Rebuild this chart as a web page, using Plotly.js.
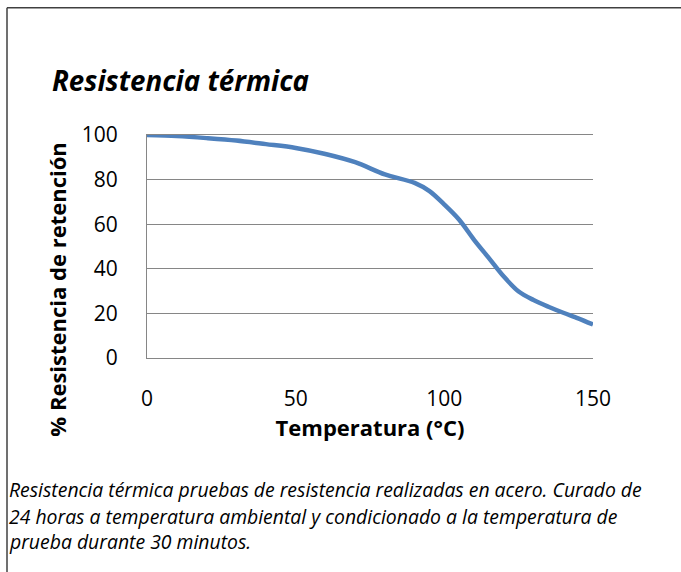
<!DOCTYPE html>
<html>
<head>
<meta charset="utf-8">
<script src="https://cdn.plot.ly/plotly-3.0.1.min.js"></script>
<style>html,body{margin:0;padding:0;background:#fff;}#chart{width:681px;height:572px;}</style>
</head>
<body>
<div id="chart"></div>
<script>
// Data
const temperatures = [0, 10, 20, 30, 40, 50, 60, 70, 80, 90, 95, 100, 105, 110, 115, 120, 125, 130, 135, 140, 145, 150];
const retention = [100, 99.5, 98.6, 97.5, 95.9, 94.2, 91.5, 87.8, 82.3, 78.5, 74.8, 68.8, 62, 53, 44.8, 36.5, 29.8, 26, 23, 20.3, 17.8, 15];
const xTicks = [0, 50, 100, 150];
const yTicks = [0, 20, 40, 60, 80, 100];
const chartTitle = 'Resistencia térmica';
const xTitle = 'Temperatura (°C)';
const yTitle = '% Resistencia de retención';
const captionLines = [
  'Resistencia térmica pruebas de resistencia realizadas en acero. Curado de',
  '24 horas a temperatura ambiental y condicionado a la temperatura de',
  'prueba durante 30 minutos.'
];

const FONT = 'Open Sans, Lato, sans-serif';
const L = 147, R = 593, T = 134.5, B = 358;
const W = R - L, H = B - T;
const px = v => (v - L) / W;
const py = v => (B - v) / H;

const trace = {
  x: temperatures, y: retention, type: 'scatter', mode: 'lines',
  line: {color: '#4F81BD', width: 4.5, shape: 'spline', smoothing: 0.9},
  hoverinfo: 'skip'
};

const captionY = [490, 516.7, 541.7];
const annotations = captionLines.map((t, i) => ({
  text: '<i>' + t + '</i>', xref: 'paper', yref: 'paper',
  x: px(7), y: py(captionY[i]), xanchor: 'left', yanchor: 'middle',
  showarrow: false, font: {family: FONT, size: 19.4, color: '#000'}
}));
annotations.push({
  text: '<b>' + yTitle + '</b>', xref: 'paper', yref: 'paper',
  x: px(57.5), y: py(290), xanchor: 'center', yanchor: 'middle', textangle: -90,
  showarrow: false, font: {family: FONT, size: 22, color: '#000'}
});

const layout = {
  width: 681, height: 572,
  margin: {l: L, r: 681 - R, t: T, b: 572 - B, pad: 0},
  paper_bgcolor: '#fff', plot_bgcolor: '#fff',
  showlegend: false,
  title: {
    text: '<b><i>' + chartTitle + '</i></b>', xref: 'container', yref: 'container',
    x: 52 / 681, xanchor: 'left', y: 1 - 81 / 572, yanchor: 'middle',
    font: {family: FONT, size: 27.7, color: '#000'}
  },
  xaxis: {
    range: [0, 150], tickvals: xTicks, ticktext: xTicks.map(String),
    showgrid: false, zeroline: false, showline: true, mirror: true,
    linecolor: '#868686', linewidth: 1, ticks: '',
    ticklabelstandoff: 22,
    tickfont: {family: FONT, size: 21, color: '#000'},
    title: {text: '<b>' + xTitle + '</b>', standoff: 3, font: {family: FONT, size: 22, color: '#000'}}
  },
  yaxis: {
    range: [0, 100], tickvals: yTicks, ticktext: yTicks.map(String),
    showgrid: true, gridcolor: '#868686', gridwidth: 1,
    zeroline: false, showline: true, linecolor: '#868686', linewidth: 1,
    ticks: '', ticklabelstandoff: 24,
    tickfont: {family: FONT, size: 21, color: '#000'}
  },
  shapes: [
    {type: 'line', xref: 'paper', yref: 'paper', x0: px(7), x1: px(7), y0: py(7), y1: py(580), line: {color: '#404040', width: 1.5}},
    {type: 'line', xref: 'paper', yref: 'paper', x0: px(7), x1: px(690), y0: py(7), y1: py(7), line: {color: '#404040', width: 1.5}}
  ],
  annotations: annotations
};

Plotly.newPlot('chart', [trace], layout, {staticPlot: true, displayModeBar: false});
</script>
</body>
</html>
